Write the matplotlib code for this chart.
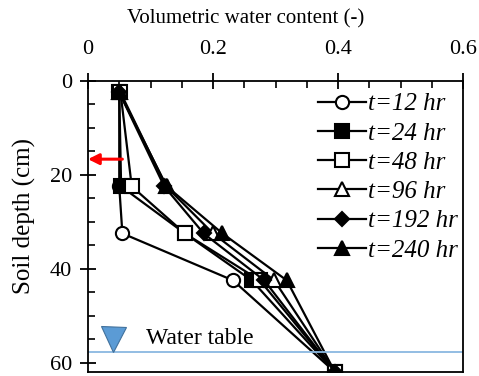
import numpy as np
from matplotlib import pyplot as plt
from matplotlib.ticker import MultipleLocator

plt.rcParams["font.family"] = "Liberation Serif"
plt.rcParams["font.size"] = 16

# soil depth (cm) of the sensors and water content at each time
depth = [2.5, 22.5, 32.5, 42.5, 62]
t12 = [0.050, 0.050, 0.055, 0.232, 0.395]
t24 = [0.050, 0.053, 0.155, 0.262, 0.395]
t48 = [0.052, 0.070, 0.155, 0.275, 0.395]
t96 = [0.052, 0.125, 0.200, 0.298, 0.395]
t192 = [0.050, 0.122, 0.185, 0.282, 0.395]
t240 = [0.050, 0.126, 0.215, 0.318, 0.395]

labels = ["t=12 hr", "t=24 hr", "t=48 hr", "t=96 hr", "t=192 hr", "t=240 hr"]
water_table = 57.8
infiltration_front = 16.7

fig = plt.figure(figsize=(4.79, 3.76), dpi=100)
ax = fig.add_axes([0.1837, 0.0106, 0.783, 0.7748])

styles = [("o", "white"), ("s", "black"), ("s", "white"),
          ("^", "white"), ("D", "black"), ("^", "black")]
sizes = [9.5, 9.5, 9.5, 9.5, 7, 9.5]
for vals, lab, (m, fc), ms in zip([t12, t24, t48, t96, t192, t240], labels, styles, sizes):
    ax.plot(vals, depth, color="black", lw=1.6, marker=m, mfc=fc, mec="black",
            mew=1.5, ms=ms, label=lab)

# water table
ax.axhline(water_table, color="#8ab8e0", lw=1.3)
ax.plot(0.04, 54.9, marker="v", ms=18, color="#5b9bd5", mec="#41719c", mew=0.8,
        clip_on=False)
ax.text(0.092, 54.9, "Water table", va="center", ha="left", fontsize=17)

# wetting front arrow
ax.annotate("", xy=(0.0, infiltration_front), xytext=(0.055, infiltration_front),
            arrowprops=dict(arrowstyle="-|>", color="red", lw=2.2,
                            mutation_scale=16, shrinkA=0, shrinkB=0))

ax.set_xlim(0, 0.6)
ax.set_ylim(62, 0)
ax.xaxis.set_ticks_position("top")
ax.xaxis.set_label_position("top")
ax.set_xticks([0, 0.2, 0.4, 0.6])
ax.set_xticklabels(["0", "0.2", "0.4", "0.6"])
ax.xaxis.set_minor_locator(MultipleLocator(0.05))
ax.set_yticks([0, 20, 40, 60])
ax.yaxis.set_minor_locator(MultipleLocator(5))
ax.tick_params(which="major", direction="inout", length=11, width=1.3)
ax.tick_params(which="minor", direction="in", length=5, width=1.2)
ax.tick_params(axis="x", which="both", bottom=False, pad=10)
ax.tick_params(axis="y", which="both", right=False, pad=6)
for s in ax.spines.values():
    s.set_linewidth(1.3)
ax.set_xlabel("Volumetric water content (-)", fontsize=15)
ax.xaxis.set_label_coords(0.42, 1.195)
ax.set_ylabel("Soil depth (cm)", fontsize=18)
ax.yaxis.set_label_coords(-0.139, 0.536)

ax.legend(loc="upper right", bbox_to_anchor=(1.0, 0.975), frameon=False,
          handlelength=1.9, handletextpad=0.1, labelspacing=0.27,
          borderaxespad=0.0, borderpad=0.2,
          prop={"style": "italic", "size": 18})

fig.savefig("out.png", dpi=100)
